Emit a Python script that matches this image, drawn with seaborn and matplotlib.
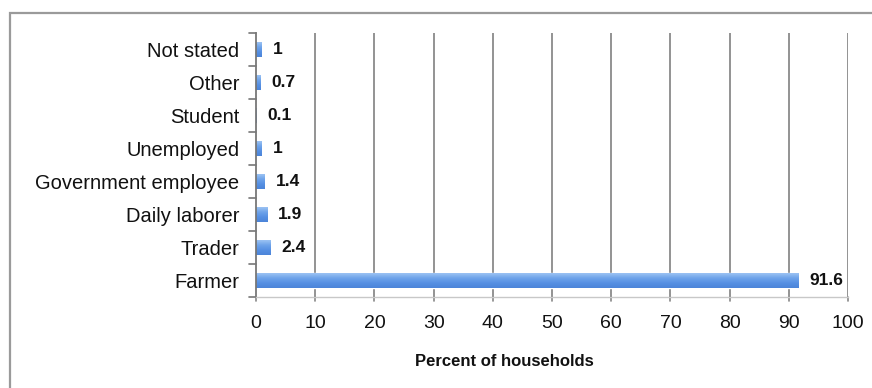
import numpy as np
import pandas as pd
import matplotlib
matplotlib.use("Agg")
import matplotlib.pyplot as plt
from matplotlib.colors import LinearSegmentedColormap
from matplotlib.patches import Rectangle
import seaborn as sns

occupations = ["Not stated", "Other", "Student", "Unemployed",
               "Government employee", "Daily laborer", "Trader", "Farmer"]
percent = [1, 0.7, 0.1, 1, 1.4, 1.9, 2.4, 91.6]
value_labels = ["1", "0.7", "0.1", "1", "1.4", "1.9", "2.4", "91.6"]
x_ticks = [0, 10, 20, 30, 40, 50, 60, 70, 80, 90, 100]

sns.set_theme(style="white")
plt.rcParams["font.family"] = ["Liberation Sans", "DejaVu Sans"]

df = pd.DataFrame({"occupation": occupations, "percent": percent})

fig = plt.figure(figsize=(8.72, 3.88), dpi=100)
ax = fig.add_axes([256 / 872, 1 - 297 / 388, 592 / 872, 264 / 388])

sns.barplot(data=df, x="percent", y="occupation", orient="h",
            color="#5a93e2", width=0.45, ax=ax, saturation=1)

# vertical gradient inside each bar
grad = LinearSegmentedColormap.from_list(
    "barfill", ["#9cc3f3", "#6ea3ea", "#5690e3", "#4b84d8"])
for patch in list(ax.patches):
    x0, y0 = patch.get_x(), patch.get_y()
    w, h = patch.get_width(), patch.get_height()
    if w <= 0:
        continue
    img = ax.imshow(np.linspace(0, 1, 64).reshape(-1, 1), cmap=grad,
                    aspect="auto", extent=[x0, x0 + w, y0 + h, y0],
                    zorder=patch.get_zorder() + 0.1, interpolation="bicubic")
    img.set_clip_path(patch)

ax.set_xlim(0, 100)
ax.set_ylim(len(occupations) - 0.5, -0.5)
ax.set_xticks(x_ticks)
ax.set_xticklabels([str(t) for t in x_ticks], fontsize=14)
ax.tick_params(axis="y", labelsize=14.5, pad=12, length=0)
ax.tick_params(axis="x", pad=13, length=0)

# vertical gridlines
for t in x_ticks[1:]:
    ax.axvline(t, color="#8a8a8a", lw=1.3, zorder=0.5)
ax.set_axisbelow(True)

# category separator ticks on the y axis and value ticks under the plot
for b in np.arange(-0.5, len(occupations), 1.0):
    ax.plot([-1.2, 0], [b, b], color="#777777", lw=1.2, clip_on=False)
for t in x_ticks:
    ax.plot([t, t], [len(occupations) - 0.5, len(occupations) - 0.5 + 0.12],
            color="#888888", lw=1.2, clip_on=False)

for s in ["top", "right"]:
    ax.spines[s].set_visible(False)
ax.spines["left"].set_color("#777777")
ax.spines["left"].set_linewidth(1.3)
ax.spines["bottom"].set_color("#c8c8c8")
ax.spines["bottom"].set_linewidth(1.0)

for i, (v, lab) in enumerate(zip(percent, value_labels)):
    ax.annotate(lab, xy=(v, i), xytext=(8, 0), textcoords="offset points",
                ha="left", va="center", fontsize=12.5, fontweight="bold",
                color="#111111")

ax.set_ylabel("")
ax.set_xlabel("Percent of households", fontsize=12, fontweight="bold",
              color="#111111")
ax.xaxis.set_label_coords(0.42, -0.215)
for lbl in ax.get_yticklabels() + ax.get_xticklabels():
    lbl.set_color("#111111")

# outer chart border
fig.patches.append(Rectangle((10 / 872, -0.2), 1.2, 1 - 13 / 388 + 0.2,
                             transform=fig.transFigure, fill=False,
                             edgecolor="#9a9a9a", lw=1.6))

fig.savefig("out.png", dpi=100)
